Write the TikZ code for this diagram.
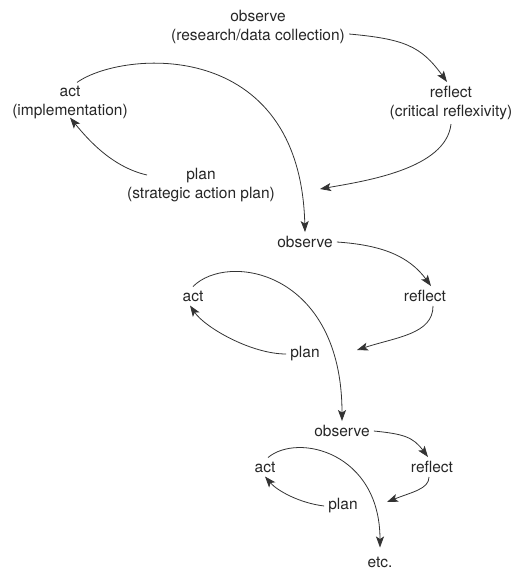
\documentclass[tikz,border=0pt]{standalone}
\usepackage{fontspec}
\setmainfont{TeX Gyre Heros}
\usetikzlibrary{arrows.meta, positioning}

\begin{document}
\begin{tikzpicture}[x=1pt, y=1pt,
  lbl/.style={text=black!85, align=center, inner sep=4pt, font=\fontsize{15.5}{19}\selectfont},
  cyc/.style={-{Stealth[length=11pt, width=8pt, inset=2.5pt]}, line width=0.8pt, draw=black!80}]
\useasboundingbox (0,0) rectangle (512,-570);

% First cycle
\node[lbl] (obs1) at (258,-27) {observe\\(research/data collection)};
\node[lbl] (refl1) at (451,-103) {reflect\\(critical reflexivity)};
\node[lbl] (plan1) at (201,-185) {plan\\(strategic action plan)};
\node[lbl] (act1) at (70,-103) {act\\(implementation)};
\coordinate (back1) at (320,-189);

\draw[cyc] ([yshift=-7pt]obs1.east) .. controls +(55,-5) and +(-26,36) .. ([xshift=-4pt]refl1.north);
\draw[cyc] (refl1.south) .. controls +(-5,-45) and +(45,8) .. (back1);
\draw[cyc] ([shift={(-54,10)}]plan1.center) .. controls +(-35,8) and +(18,-22) .. ([yshift=6pt]act1.south);

% Second cycle
\node[lbl] (obs2) at (305,-242) {observe};
\node[lbl] (refl2) at (425,-296) {reflect};
\node[lbl] (plan2) at (305,-354) {plan};
\node[lbl] (act2) at (193,-296) {act};
\coordinate (back2) at (357,-350);

\draw[cyc] ([xshift=7pt]act1.north) .. controls +(45,32) and +(-5,196) .. (obs2.north);
\draw[cyc] (obs2.east) .. controls +(45,-3) and +(-22,30) .. ([xshift=6pt]refl2.north);
\draw[cyc] ([xshift=8pt]refl2.south) .. controls +(0,-28) and +(40,13) .. (back2);
\draw[cyc] (plan2.west) .. controls +(-35,0) and +(15,-22) .. ([xshift=-3pt]act2.south);

% Third cycle
\node[lbl] (obs3) at (342,-431) {observe};
\node[lbl] (refl3) at (432,-467) {reflect};
\node[lbl] (plan3) at (343,-506) {plan};
\node[lbl] (act3) at (265,-467) {act};
\node[lbl] (etc) at (380,-562) {etc.};
\coordinate (back3) at (387,-502);

\draw[cyc] (act2.north) .. controls +(35,35) and +(0,150) .. (obs3.north);
\draw[cyc] (obs3.east) .. controls +(30,-3) and +(-15,20) .. ([xshift=-4pt]refl3.north);
\draw[cyc] ([xshift=-3pt]refl3.south) .. controls +(0,-12) and +(25,10) .. (back3);
\draw[cyc] (plan3.west) .. controls +(-25,3) and +(12,-14) .. (act3.south);
\draw[cyc] ([xshift=3pt]act3.north) .. controls +(30,25) and +(0,95) .. ([yshift=5pt]etc.north);
\end{tikzpicture}
\end{document}
